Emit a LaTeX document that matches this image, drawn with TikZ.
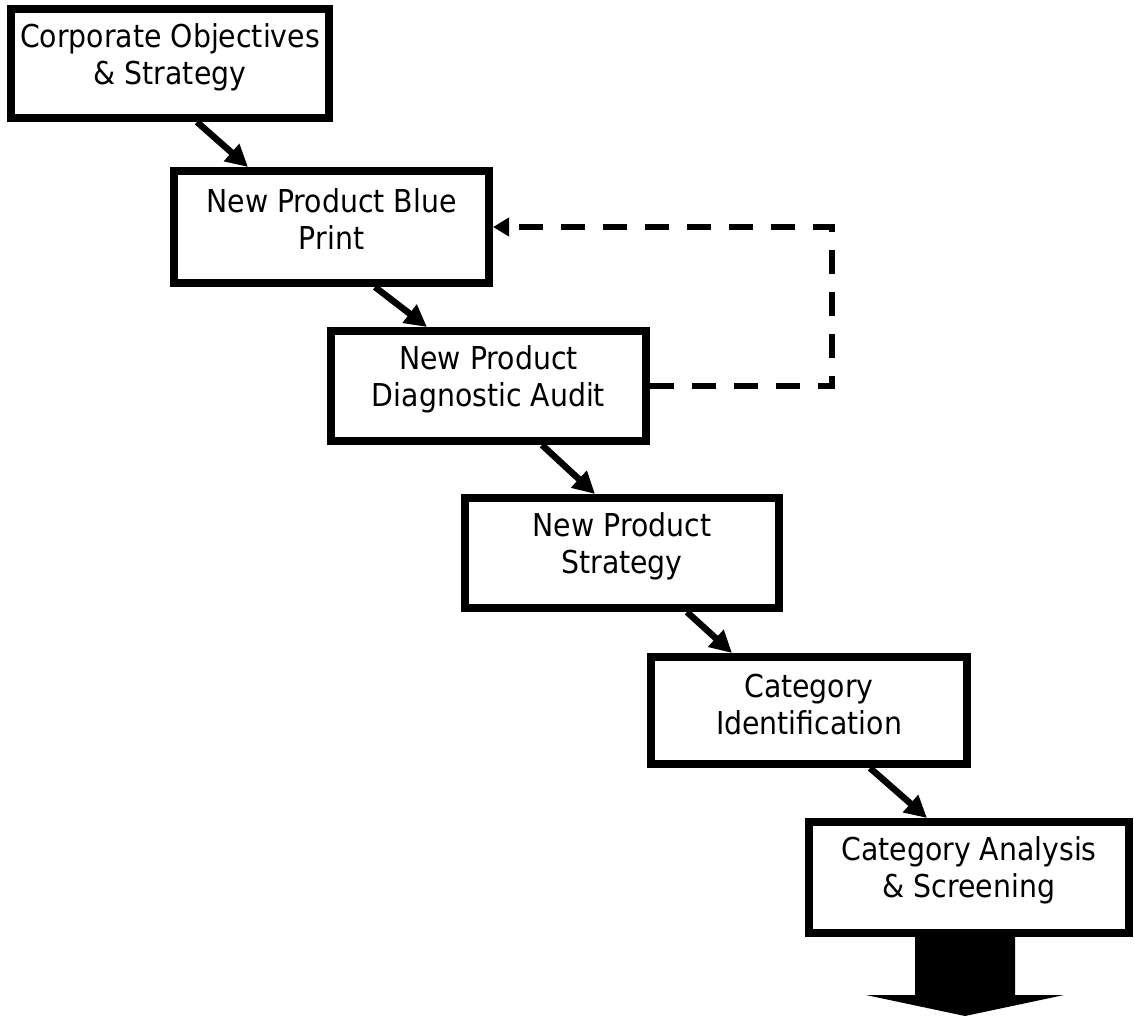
\documentclass[tikz,border=0pt]{standalone}
\usepackage{fontspec}
\setmainfont[FakeStretch=0.9]{DejaVu Sans}
\usetikzlibrary{arrows.meta}
\begin{document}
\begin{tikzpicture}[x=1pt,y=-1pt,
  stage/.style={draw=black, line width=8pt, fill=white, rectangle,
    inner sep=0pt, outer sep=4pt},
  caption/.style={align=center, inner sep=0pt,
    font=\fontsize{31.5}{37}\selectfont},
  flow/.style={line width=6.5pt, -{Triangle[length=22pt,width=22pt]}},
  feedback/.style={line width=6pt, dash pattern=on 24pt off 18pt,
    -{Triangle[length=16pt,width=18pt]}},
]
% page
\fill[white] (0,0) rectangle (1134,1017);
\useasboundingbox (0,0) rectangle (1134,1017);

% stages of the process
\node[stage, minimum width=318pt, minimum height=109pt] (b1) at (170,63.5) {};
\node[stage, minimum width=315pt, minimum height=112pt] (b2) at (331.5,227) {};
\node[stage, minimum width=315pt, minimum height=110pt] (b3) at (488.5,386) {};
\node[stage, minimum width=314pt, minimum height=110pt] (b4) at (622,553) {};
\node[stage, minimum width=316pt, minimum height=107pt] (b5) at (809,710.5) {};
\node[stage, minimum width=320pt, minimum height=111pt] (b6) at (969,877.5) {};

% captions
\node[caption] (t1) at ([yshift=-52pt]b1.north) {Corporate Objectives\\\& Strategy};
\node[caption] (t2) at ([yshift=-52pt]b2.north) {New Product Blue\\Print};
\node[caption] (t3) at ([yshift=-52pt]b3.north) {New Product\\Diagnostic Audit};
\node[caption] (t4) at ([yshift=-52pt]b4.north) {New Product\\Strategy};
\node[caption] (t5) at ([yshift=-52pt]b5.north) {Category\\Identification};
\node[caption] (t6) at ([yshift=-52pt]b6.north) {Category Analysis\\\& Screening};

% step-to-step connectors
\draw[flow] ([xshift=190pt]b1.south west) -- ([xshift=78pt]b2.north west);
\draw[flow] ([xshift=205pt]b2.south west) -- ([xshift=100pt]b3.north west);
\draw[flow] ([xshift=215pt]b3.south west) -- ([xshift=134pt]b4.north west);
\draw[flow] ([xshift=226pt]b4.south west) -- ([xshift=85pt]b5.north west);
\draw[flow] ([xshift=223pt]b5.south west) -- ([xshift=122pt]b6.north west);

% feedback loop from the audit back to the blue print
\draw[feedback] (b3.east) -- ++(182,0) |- (b2.east);

% block arrow leading on from the last stage
\coordinate (out) at ([xshift=-4pt]b6.south);
\fill[black] ([xshift=-50pt]out) -- ([xshift=-50pt,yshift=-58pt]out)
  -- ([xshift=-99pt,yshift=-58pt]out) -- ([yshift=-79pt]out)
  -- ([xshift=99pt,yshift=-58pt]out) -- ([xshift=50pt,yshift=-58pt]out)
  -- ([xshift=50pt]out) -- cycle;
\end{tikzpicture}
\end{document}
